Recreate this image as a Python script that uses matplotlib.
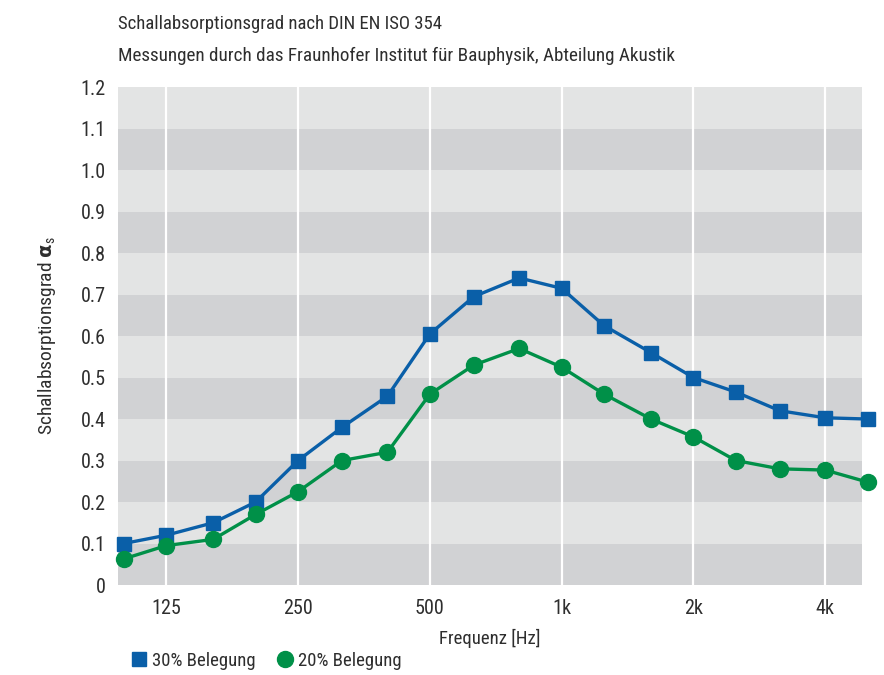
import numpy as np
import matplotlib
matplotlib.use("Agg")
import matplotlib.pyplot as plt
from matplotlib.lines import Line2D

plt.rcParams['font.family'] = ['Roboto Condensed', 'DejaVu Sans']
plt.rcParams['font.weight'] = 'normal'
plt.rcParams['mathtext.fontset'] = 'custom'
plt.rcParams['mathtext.rm'] = 'Roboto Condensed'
plt.rcParams['mathtext.bf'] = 'DejaVu Sans:bold'

# third-octave band centre frequencies [Hz]
freq = [100, 125, 160, 200, 250, 315, 400, 500, 630, 800,
        1000, 1250, 1600, 2000, 2500, 3150, 4000, 5000]
alpha_30 = [0.10, 0.12, 0.15, 0.20, 0.30, 0.38, 0.455, 0.605, 0.695, 0.74,
            0.715, 0.625, 0.56, 0.50, 0.465, 0.42, 0.403, 0.40]
alpha_20 = [0.063, 0.095, 0.11, 0.17, 0.225, 0.30, 0.32, 0.46, 0.53, 0.57,
            0.525, 0.46, 0.40, 0.357, 0.30, 0.28, 0.277, 0.248]
xtick_vals = [125, 250, 500, 1000, 2000, 4000]
xtick_labels = ['125', '250', '500', '1k', '2k', '4k']
ytick_vals = [0, 0.1, 0.2, 0.3, 0.4, 0.5, 0.6, 0.7, 0.8, 0.9, 1.0, 1.1, 1.2]
ytick_labels = ['0', '0.1', '0.2', '0.3', '0.4', '0.5', '0.6', '0.7', '0.8',
                '0.9', '1.0', '1.1', '1.2']

blue = '#0a5fa8'
green = '#009048'
dark_band = '#d1d2d4'
light_band = '#e3e4e4'
text_col = '#2e2e2e'

fig = plt.figure(figsize=(8.84, 6.75), dpi=100)
ax = fig.add_axes([0.1335, 0.1333, 0.8415, 0.7377])
ax.set_xscale('log')
ax.set_xlim(97, 4850)
ax.set_ylim(0, 1.2)
ax.set_facecolor(light_band)

# alternating horizontal bands
for i in range(12):
    ax.axhspan(i * 0.1, (i + 1) * 0.1, color=dark_band if i % 2 == 0 else light_band, lw=0, zorder=0)
for xv in xtick_vals:
    ax.axvline(xv, color='white', lw=1.6, zorder=1)

ax.plot(freq, alpha_30, color=blue, lw=2.4, marker='s', ms=10.5, zorder=3, clip_on=False)
ax.plot(freq, alpha_20, color=green, lw=2.4, marker='o', ms=11.5, zorder=3, clip_on=False)

ax.set_xticks(xtick_vals)
ax.set_xticklabels(xtick_labels)
ax.minorticks_off()
ax.set_yticks(ytick_vals)
ax.set_yticklabels(ytick_labels)
ax.tick_params(length=0, labelsize=14.5, colors=text_col, pad=9)
ax.tick_params(axis='x', pad=10)
for s in ax.spines.values():
    s.set_visible(False)

ax.set_xlabel('Frequenz [Hz]', fontsize=13.5, color=text_col, labelpad=8)
ax.set_ylabel(r'Schallabsorptionsgrad $\mathbf{\alpha}_{\mathrm{s}}$', fontsize=14, color=text_col, labelpad=16)

fig.text(0.1335, 0.965, 'Schallabsorptionsgrad nach DIN EN ISO 354', fontsize=13.5, color=text_col, va='center')
fig.text(0.1335, 0.917, 'Messungen durch das Fraunhofer Institut für Bauphysik, Abteilung Akustik', fontsize=13.8, color=text_col, va='center')

handles = [Line2D([], [], color=blue, marker='s', ls='none', ms=10.5),
           Line2D([], [], color=green, marker='o', ls='none', ms=11.5)]
fig.legend(handles, ['30% Belegung', '20% Belegung'], loc='lower left',
           bbox_to_anchor=(0.125, -0.017), ncol=2, frameon=False, fontsize=13.5,
           handletextpad=0.1, columnspacing=1.0, handlelength=1.2, labelcolor=text_col)

fig.savefig('out.png', dpi=100)
